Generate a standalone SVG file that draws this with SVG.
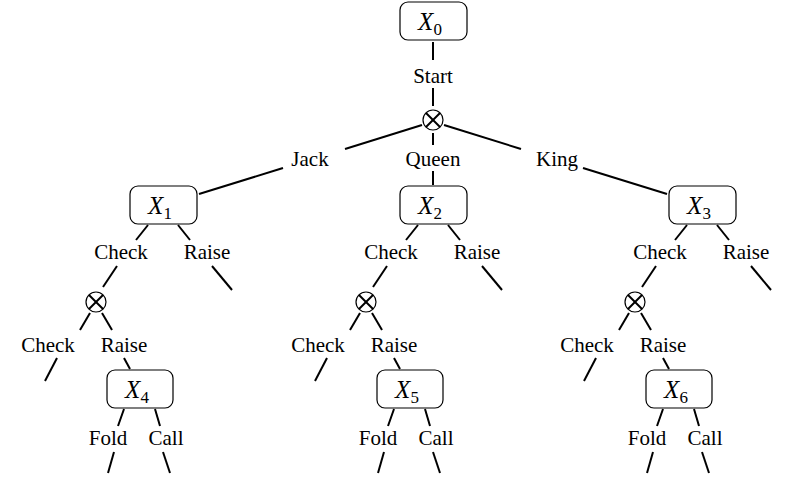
<svg xmlns="http://www.w3.org/2000/svg" width="788" height="496" viewBox="0 0 788 496">
<style>
text{font-family:"Liberation Serif",serif;font-size:21px;text-anchor:middle;fill:#000}
.x{font-style:italic;font-size:25px}
.s{font-size:17px;font-style:normal}
.box{fill:#fff;stroke:#000;stroke-width:1.2}
.c{fill:none;stroke:#000;stroke-width:1.2}
line{stroke:#000;stroke-width:2}
</style>
<rect width="788" height="496" fill="#fff"/>
<defs>
<g id="ot"><circle class="c" r="10"/><line x1="-7" y1="-7" x2="7" y2="7" stroke-width="1.2"/><line x1="-7" y1="7" x2="7" y2="-7" stroke-width="1.2"/></g>
</defs>
<g id="connectors">
<line x1="433" y1="42" x2="433" y2="60"/>
<line x1="433" y1="88" x2="433" y2="106"/>
<line x1="422" y1="125" x2="345" y2="149"/>
<line x1="444" y1="125" x2="521" y2="149"/>
<line x1="433" y1="133" x2="433" y2="145"/>
<line x1="283" y1="168" x2="199" y2="194"/>
<line x1="583" y1="168" x2="667" y2="194"/>
<line x1="433" y1="171" x2="433" y2="185"/>
<g id="c1" transform="translate(0,0)">
<line x1="148" y1="225" x2="136" y2="240"/><line x1="178" y1="225" x2="190" y2="240"/>
<line x1="212" y1="266" x2="232" y2="290"/><line x1="117" y1="266" x2="103" y2="287"/>
<line x1="90" y1="313" x2="80" y2="330"/><line x1="102" y1="313" x2="112" y2="330"/>
<line x1="57" y1="358" x2="45" y2="381"/><line x1="124" y1="358" x2="130" y2="369"/>
<line x1="124" y1="409" x2="118" y2="426"/><line x1="155" y1="409" x2="160" y2="426"/>
<line x1="114" y1="452" x2="108" y2="473"/><line x1="163" y1="452" x2="170" y2="473"/>
</g>
<use href="#c1" x="270"/>
<use href="#c1" x="539"/>
</g>
<g id="X0"><rect class="box" x="400" y="2" width="67" height="38" rx="8"/><text class="x" x="430" y="30">X<tspan class="s" dy="5">0</tspan></text></g>
<g id="otimes0"><use href="#ot" x="433" y="120"/></g>
<g id="labels0">
<text x="433" y="83">Start</text>
<text x="310" y="166">Jack</text><text x="433" y="166">Queen</text><text x="557" y="166">King</text>
</g>
<g id="X1"><rect class="box" x="130" y="186" width="67" height="38" rx="8"/><text class="x" x="160" y="214">X<tspan class="s" dy="5">1</tspan></text></g>
<g id="X2"><rect class="box" x="400" y="186" width="67" height="38" rx="8"/><text class="x" x="430" y="214">X<tspan class="s" dy="5">2</tspan></text></g>
<g id="X3"><rect class="box" x="669" y="186" width="67" height="38" rx="8"/><text class="x" x="699" y="214">X<tspan class="s" dy="5">3</tspan></text></g>
<g id="sub1">
<text x="121" y="259">Check</text><text x="207" y="259">Raise</text>
<use href="#ot" x="96" y="302"/>
<text x="48" y="352">Check</text><text x="124" y="352">Raise</text>
<text x="108" y="445">Fold</text><text x="166" y="445">Call</text>
</g>
<g id="X4"><rect class="box" x="107" y="370" width="66" height="38" rx="8"/><text class="x" x="137" y="398">X<tspan class="s" dy="5">4</tspan></text></g>
<g id="sub2" transform="translate(270,0)">
<text x="121" y="259">Check</text><text x="207" y="259">Raise</text>
<use href="#ot" x="96" y="302"/>
<text x="48" y="352">Check</text><text x="124" y="352">Raise</text>
<text x="108" y="445">Fold</text><text x="166" y="445">Call</text>
</g>
<g id="X5"><rect class="box" x="377" y="370" width="66" height="38" rx="8"/><text class="x" x="407" y="398">X<tspan class="s" dy="5">5</tspan></text></g>
<g id="sub3" transform="translate(539,0)">
<text x="121" y="259">Check</text><text x="207" y="259">Raise</text>
<use href="#ot" x="96" y="302"/>
<text x="48" y="352">Check</text><text x="124" y="352">Raise</text>
<text x="108" y="445">Fold</text><text x="166" y="445">Call</text>
</g>
<g id="X6"><rect class="box" x="646" y="370" width="66" height="38" rx="8"/><text class="x" x="676" y="398">X<tspan class="s" dy="5">6</tspan></text></g>
</svg>
